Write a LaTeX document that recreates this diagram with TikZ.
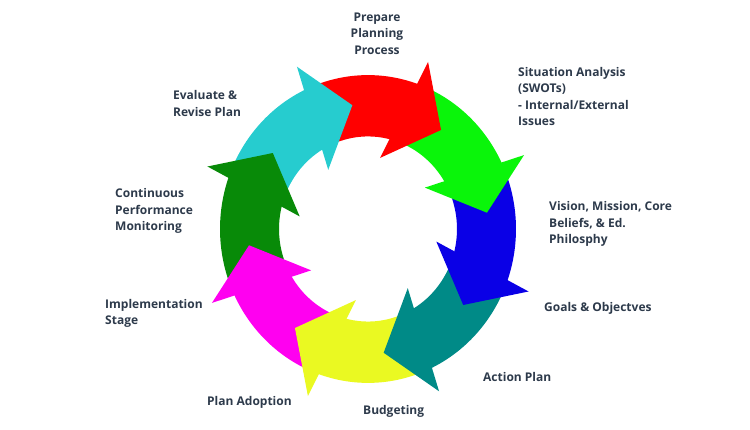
\documentclass[tikz,border=0pt]{standalone}
\usepackage{fontspec}
\setmainfont{Open Sans}
\usetikzlibrary{calc}
\definecolor{LabelGrey}{RGB}{45,58,75}
\definecolor{StepCyan}{RGB}{38,204,207}
\definecolor{StepRed}{RGB}{255,0,0}
\definecolor{StepLime}{RGB}{10,245,10}
\definecolor{StepBlue}{RGB}{10,0,230}
\definecolor{StepTeal}{RGB}{0,138,135}
\definecolor{StepYellow}{RGB}{234,249,34}
\definecolor{StepMagenta}{RGB}{255,0,240}
\definecolor{StepGreen}{RGB}{8,138,8}
\begin{document}
\begin{tikzpicture}
   [x=1pt,y=1pt,
   steplabel/.style={font=\bfseries\fontsize{12}{16.5}\selectfont,text=LabelGrey,inner sep=0pt,align=left,anchor=west}]
    \useasboundingbox (0,0) rectangle (750,430);
    \begin{scope}[shift={(368,201)},yscale=1.04]
    \foreach \col [count=\i from 0] in {StepCyan,StepRed,StepLime,StepBlue,StepTeal,StepYellow,StepMagenta,StepGreen}{
      \pgfmathsetmacro\tip{97.5-45*\i}
      \fill[\col] (\tip+17:148) arc[start angle=\tip+17,delta angle=45,radius=148]
        -- (\tip+62:89) arc[start angle=\tip+62,delta angle=-45,radius=89] -- cycle;
    }
    \foreach \col [count=\i from 0] in {StepCyan,StepRed,StepLime,StepBlue,StepTeal,StepYellow,StepMagenta,StepGreen}{
      \pgfmathsetmacro\tip{97.5-45*\i}
      \coordinate (tip\i) at (\tip:120);
      \coordinate (base\i) at (\tip+20:120);
      \fill[\col] (tip\i) -- ($(base\i)!52pt!90:(tip\i)$) -- ($(base\i)!52pt!-90:(tip\i)$) -- cycle;
    }
    \end{scope}
    \node[steplabel,align=center,anchor=center] (prepare) at (377,396.5) {Prepare\\Planning\\Process};
    \node[steplabel] (situation) at (518,333.5) {Situation Analysis\\(SWOTs)\\- Internal/External\\Issues};
    \node[steplabel] (vision) at (549,206) {Vision, Mission, Core\\Beliefs, \& Ed.\\Philosphy};
    \node[steplabel] (goals) at (544,122) {Goals \& Objectves};
    \node[steplabel] (action) at (483,53) {Action Plan};
    \node[steplabel] (budget) at (363,19) {Budgeting};
    \node[steplabel] (adoption) at (207,28) {Plan Adoption};
    \node[steplabel] (implement) at (105,116.5) {Implementation\\Stage};
    \node[steplabel] (monitor) at (115,219) {Continuous\\Performance\\Monitoring};
    \node[steplabel] (evaluate) at (173,326.5) {Evaluate \&\\Revise Plan};
\end{tikzpicture}
\end{document}
